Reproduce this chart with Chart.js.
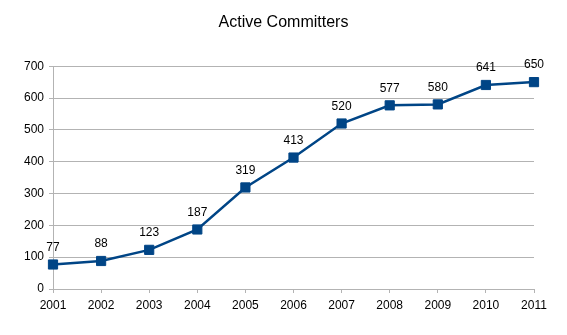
<!DOCTYPE html>
<html>
<head>
<meta charset="utf-8">
<script src="https://cdn.jsdelivr.net/npm/chart.js@4"></script>
<style>
html,body{margin:0;padding:0;background:#fff;}
#wrap{width:567px;height:335px;}
</style>
</head>
<body>
<div id="wrap"><canvas id="c" width="567" height="335"></canvas></div>
<script>
const categories = ['2001','2002','2003','2004','2005','2006','2007','2008','2009','2010','2011'];
const committers = [77, 88, 123, 187, 319, 413, 520, 577, 580, 641, 650];
const yTicks = [0, 100, 200, 300, 400, 500, 600, 700];
const chartTitle = 'Active Committers';

const FONT = '"Liberation Sans", Arial, sans-serif';
const gridColor = '#b3b3b3';
const lineColor = '#004586';

const dataLabels = {
  id: 'dataLabels',
  afterDatasetsDraw(chart) {
    const ctx = chart.ctx;
    const meta = chart.getDatasetMeta(0);
    const ds = chart.data.datasets[0];
    ctx.save();
    ctx.font = '12px ' + FONT;
    ctx.fillStyle = '#000';
    ctx.textAlign = 'center';
    ctx.textBaseline = 'middle';
    meta.data.forEach((pt, i) => {
      ctx.fillText(String(ds.data[i]), pt.x, pt.y - 17);
    });
    ctx.restore();
  }
};

new Chart(document.getElementById('c'), {
  type: 'line',
  data: {
    labels: categories,
    datasets: [{
      data: committers,
      yAxisID: 'y',
      borderColor: lineColor,
      backgroundColor: lineColor,
      borderWidth: 2.5,
      pointStyle: 'rect',
      pointRadius: 6.5,
      pointBorderWidth: 1,
      pointHoverRadius: 6.5,
      tension: 0,
      fill: false
    }]
  },
  options: {
    responsive: false,
    animation: false,
    devicePixelRatio: 1,
    layout: { padding: 0 },
    plugins: {
      legend: { display: false },
      tooltip: { enabled: false },
      title: {
        display: true,
        text: chartTitle,
        color: '#000',
        font: { family: FONT, size: 16, weight: 'normal' },
        padding: { top: 13, bottom: 34 }
      }
    },
    scales: {
      x: {
        offset: false,
        grid: { display: true, drawOnChartArea: false, drawTicks: true, tickLength: 4, color: gridColor },
        border: { display: true, color: gridColor, width: 1 },
        ticks: { color: '#000', font: { family: FONT, size: 12 }, padding: 5, maxRotation: 0, autoSkip: false },
        afterFit(scale) { scale.height = 46; }
      },
      y: {
        min: 0,
        max: 700,
        afterBuildTicks(scale) { scale.ticks = yTicks.map(v => ({ value: v })); },
        grid: { display: true, drawTicks: true, tickLength: 4, color: gridColor },
        border: { display: true, color: gridColor, width: 1 },
        ticks: { color: '#000', font: { family: FONT, size: 12 }, padding: 5 },
        afterFit(scale) { scale.width = 53; }
      },
      yRight: {
        position: 'right',
        display: true,
        min: 0,
        max: 700,
        grid: { display: false, drawOnChartArea: false, drawTicks: false },
        border: { display: false },
        ticks: { display: false },
        afterFit(scale) { scale.width = 33; }
      }
    }
  },
  plugins: [dataLabels]
});
</script>
</body>
</html>
